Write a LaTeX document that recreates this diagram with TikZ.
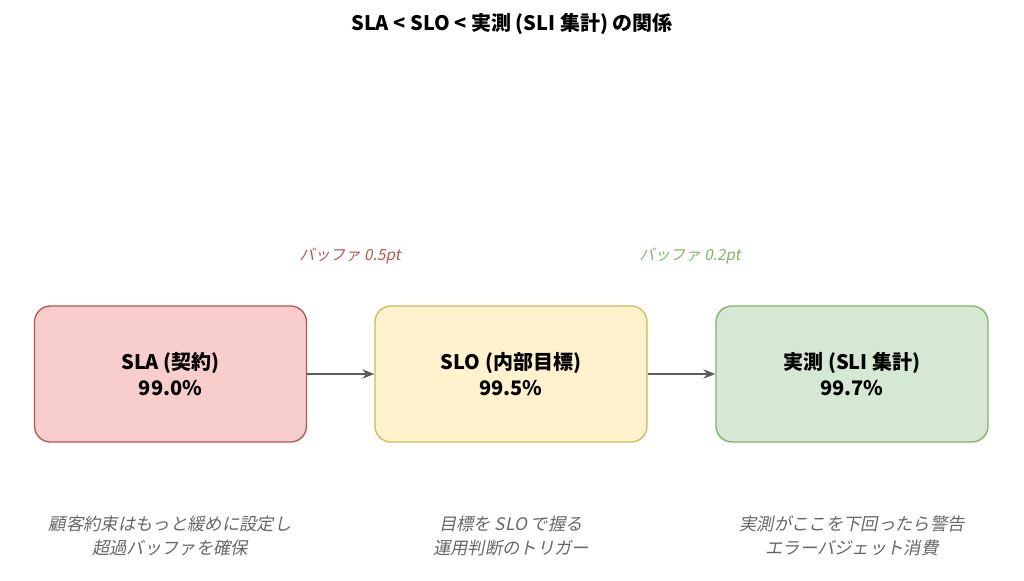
\documentclass[tikz,border=0pt]{standalone}
\usepackage{fontspec}
\setmainfont{Noto Sans CJK JP}[AutoFakeSlant=0.2]
\usetikzlibrary{arrows.meta}
\definecolor{rf}{HTML}{F8CECC}\definecolor{rs}{HTML}{B85450}
\definecolor{yf}{HTML}{FFF2CC}\definecolor{ys}{HTML}{D6B656}
\definecolor{gf}{HTML}{D5E8D4}\definecolor{gs}{HTML}{82B366}
\definecolor{tx}{HTML}{666666}
\begin{document}
\begin{tikzpicture}[x=0.75pt,y=-0.75pt,
 box/.style={draw,line width=1pt,rounded corners=12pt,minimum width=272*0.75pt,minimum height=136*0.75pt,align=center,font=\bfseries\fontsize{15}{19}\selectfont,inner sep=0pt},
 arr/.style={-{Stealth[length=9pt,width=7pt]},line width=1pt,draw=tx!90!black},
 note/.style={align=center,text=tx,font=\itshape\fontsize{13}{18}\selectfont},
 buf/.style={font=\itshape\fontsize{11.5}{14}\selectfont}]
\useasboundingbox (0,0) rectangle (1024,581);
\node[font=\bfseries\fontsize{15}{18}\selectfont] (t) at (512,24) {SLA < SLO < 実測 (SLI 集計) の関係};
\node[box,fill=rf,draw=rs] (a) at (170.5,374) {SLA (契約)\\99.0\%};
\node[box,fill=yf,draw=ys] (b) at (511,374) {SLO (内部目標)\\99.5\%};
\node[box,fill=gf,draw=gs] (c) at (852,374) {実測 (SLI 集計)\\99.7\%};
\draw[arr] (a) -- (b);
\draw[arr] (b) -- (c);
\node[buf,text=rs] (l1) at (350,256) {バッファ 0.5pt};
\node[buf,text=gs] (l2) at (690,256) {バッファ 0.2pt};
\node[note] (n1) at (170,536) {顧客約束はもっと緩めに設定し\\超過バッファを確保};
\node[note] (n2) at (511,536) {目標を SLO で握る\\運用判断のトリガー};
\node[note] (n3) at (852,536) {実測がここを下回ったら警告\\エラーバジェット消費};
\end{tikzpicture}
\end{document}
